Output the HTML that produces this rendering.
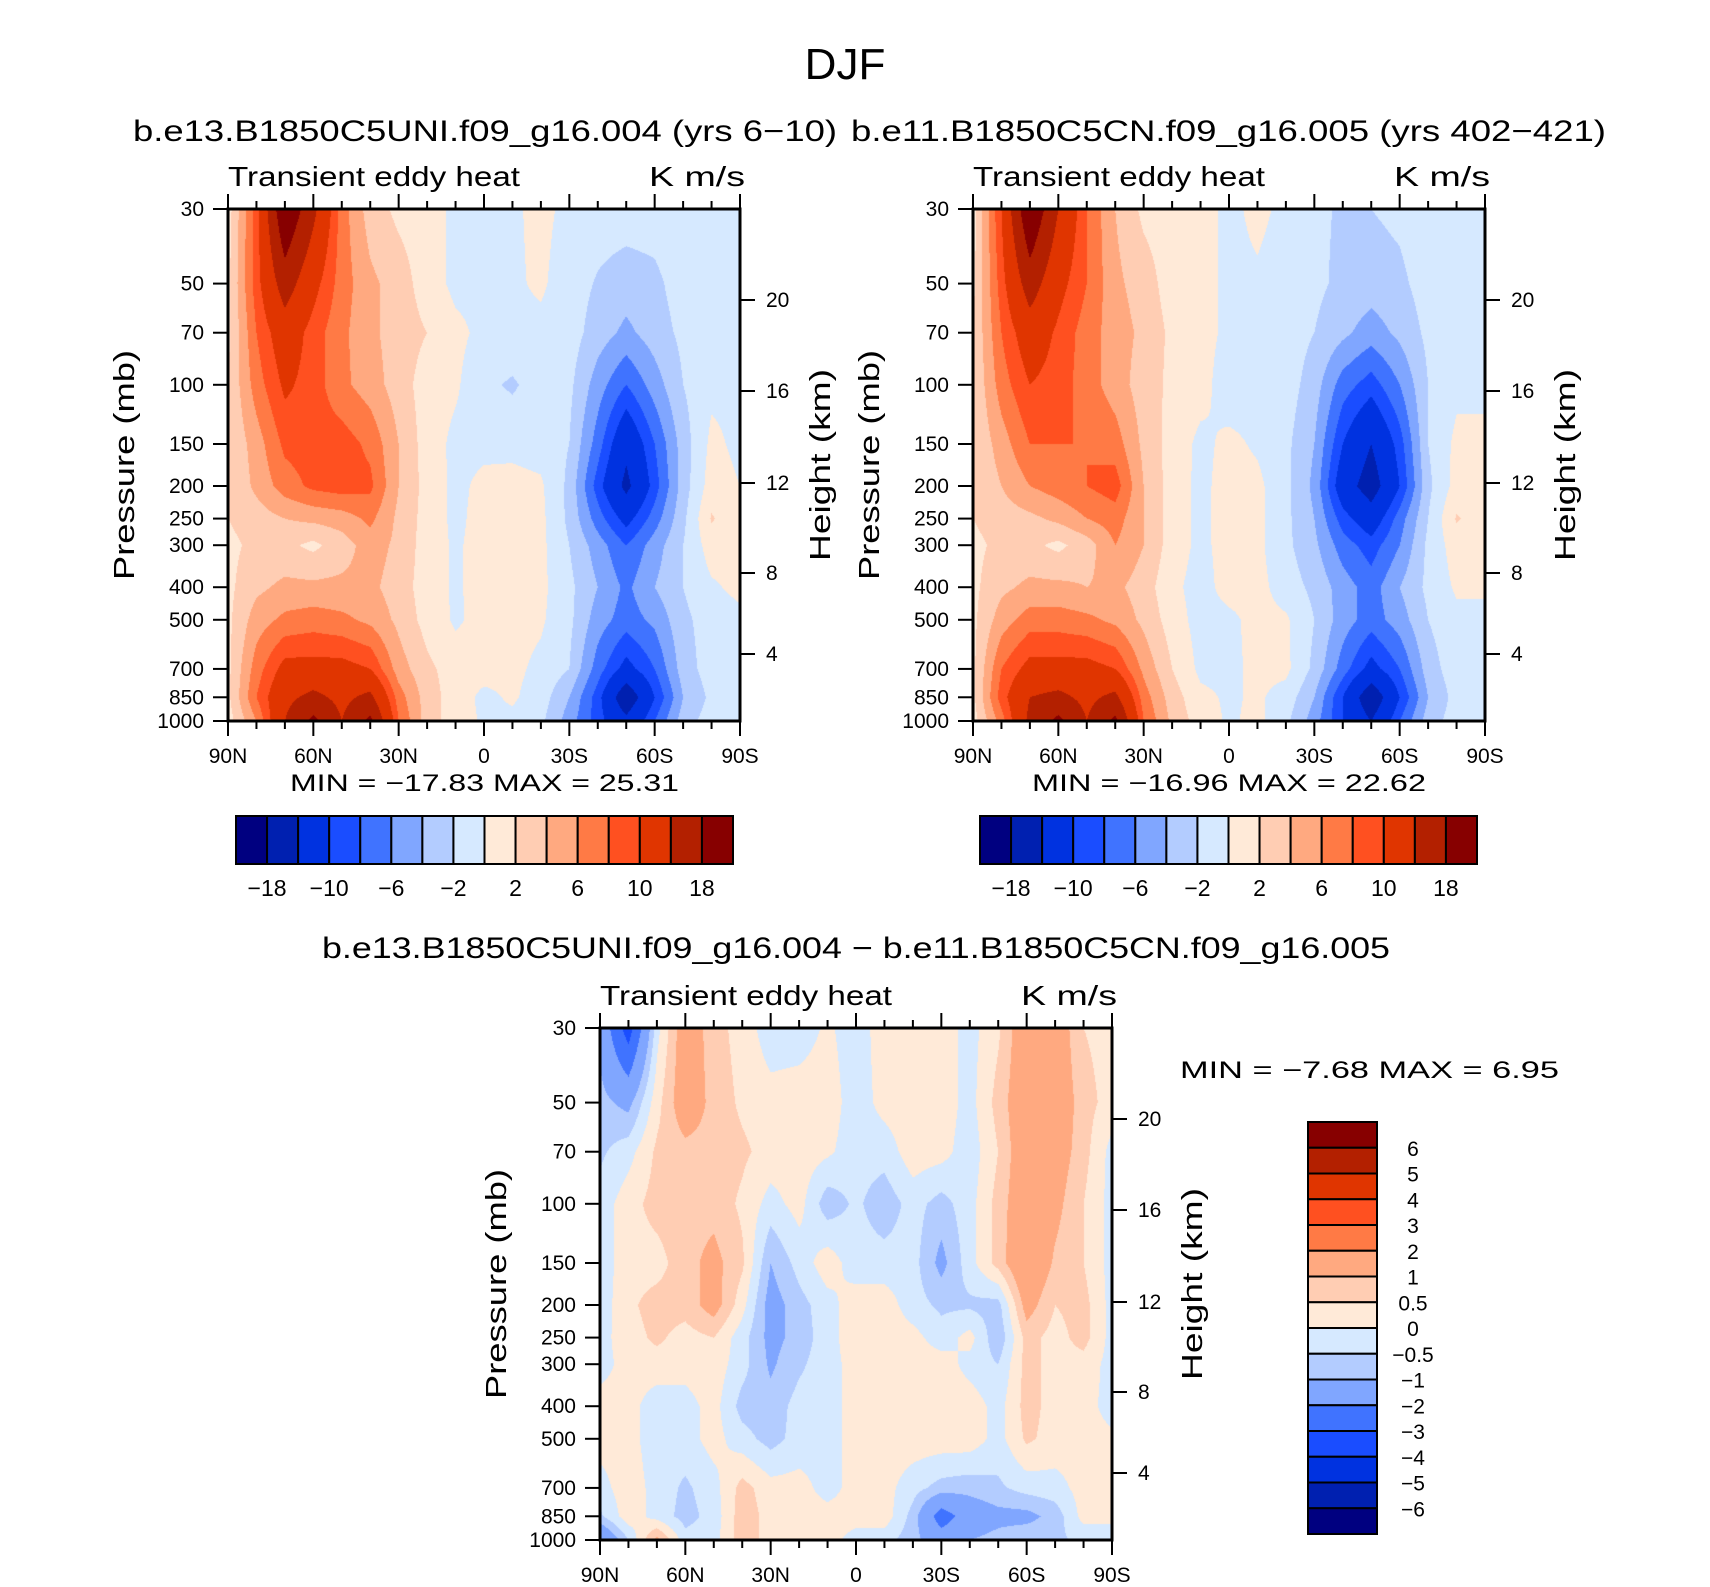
<!DOCTYPE html>
<html><head><meta charset="utf-8"><title>DJF Transient eddy heat</title>
<style>
html,body{margin:0;padding:0;background:#fff;}
#wrap{position:relative;width:1710px;height:1587px;overflow:hidden;background:#fff;font-family:"Liberation Sans",sans-serif;}
canvas{position:absolute;}
svg{position:absolute;left:0;top:0;}
</style></head>
<body>
<div id="wrap">
<canvas id="c1" width="512" height="512" style="left:228px;top:209px"></canvas>
<canvas id="c2" width="512" height="512" style="left:973px;top:209px"></canvas>
<canvas id="c3" width="512" height="512" style="left:600px;top:1028px"></canvas>
<svg id="ov" width="1710" height="1587"></svg>
</div>
<script>
// ---- data ----
const lats = [90,80,70,60,50,40,30,20,10,0,-10,-20,-30,-40,-50,-60,-70,-80,-90];
const plev = [30,50,70,100,150,200,250,300,400,500,700,850,1000];
const pTickLabels = ["30","50","70","100","150","200","250","300","400","500","700","850","1000"];
const latTickLabels = ["90N","60N","30N","0","30S","60S","90S"];
const heightTickLabels = ["20","16","12","8","4"];
const levelsMain = [-18,-14,-10,-8,-6,-4,-2,0,2,4,6,8,10,14,18];
const levelsDiff = [-6,-5,-4,-3,-2,-1,-0.5,0,0.5,1,2,3,4,5,6];
const mainBarLabels = ["\u221218","\u221210","\u22126","\u22122","2","6","10","18"];
const diffBarLabels = ["6","5","4","3","2","1","0.5","0","\u22120.5","\u22121","\u22122","\u22123","\u22124","\u22125","\u22126"];
const palette = ['#000080','#0020b0','#0032e0','#1a4dff','#4073ff','#80a6ff','#b3ccff','#d6e9ff','#ffead8','#ffcdb3','#ffa980','#ff7a45','#ff5020','#e03500','#b32000','#870000'];

const ctlVals = [
[1,9,22,15,7,3,1.5,1,-0.5,-0.5,-0.3,0.5,-0.5,-1,-1,-1,-0.5,-0.5,-0.5],
[1.5,9,16,11,7,4.5,3,1,-0.5,-0.5,-0.3,0.3,-1,-2.2,-3,-2.5,-1,-0.5,-0.5],
[1.5,8,12,9,6.5,4.5,3,2,0.5,-0.5,-0.5,-0.5,-1,-3,-4.5,-3,-1.5,-0.7,-0.5],
[2,7,10.5,9,6.5,5,3,1,0.3,-1.5,-2.3,-1,-1.5,-5,-8,-5,-2,-0.5,-0.5],
[2,5,8.5,9,9,7.5,4,1,-0.5,-0.5,-0.5,-0.8,-2,-7,-13,-8,-3,0.5,-0.5],
[2,4.5,7,8.5,9,8.5,4,1.2,-0.5,0.5,0.6,0.3,-2.5,-9,-15,-9,-3,1,0],
[2,3,4,4.5,5,6.5,3.5,1.2,-0.5,0.8,0.8,0.5,-2.5,-7,-11,-7,-2.5,2.2,0.5],
[1.5,2.5,2.5,1.5,3,5,3.5,1,-0.3,0.8,0.8,0.5,-2,-5,-8,-5,-2,1,0.5],
[1.5,3.5,4.5,4.5,4.5,4.5,3,1,-0.3,0.8,0.8,0.5,-1.5,-4,-6.5,-4,-2,-0.3,0.5],
[1.5,5,6.5,7,6.5,5.5,3.5,1.2,-0.3,0.7,0.7,0.3,-1.5,-5,-7,-5.5,-2.5,-1,-0.5],
[1.5,7,11,11,11,10,5,2.5,1,0.8,0.5,-0.5,-2,-7,-11,-8,-3,-1,-0.5],
[1.5,8,13,15,13,15,7,3,1,-0.5,0.3,-1,-4,-9,-17,-10,-4,-1.5,-0.5],
[1,6,14,19,14,19,8,3,1,-0.3,-0.5,-1.5,-5,-9,-13,-8,-3,-1,-0.5]];

const cntVals = [
[1,10,22,14,8,4,1.5,1,0.8,-0.5,0.5,-0.5,-1.5,-2.3,-2,-1.5,-0.5,-0.5,-0.5],
[1.5,9,16,11,8,4.5,3,1,0.8,-0.5,-0.3,-1,-1.5,-2.5,-3,-2.5,-1,-0.5,-0.5],
[2,8,12,9.5,7,5,3.5,1.5,0.8,-0.5,-0.5,-1,-2,-3.5,-5,-3.5,-1.5,-0.5,-0.5],
[2,7,10,9,7,5,3,1.5,0.8,-1.2,-0.8,-1,-3,-7,-9,-6,-2,-0.5,-0.5],
[2,5,8,8,8,7,3.5,1.2,-0.5,0.5,-0.3,-1.5,-4,-10,-14,-9,-2,0.5,0.5],
[2,4,6,7,8,9,4,1,-0.5,0.8,0.5,-1.5,-4.5,-12,-16,-10,-2.5,0.8,0.8],
[2,3,3.5,4.5,6,7,4,1,-0.5,0.8,0.5,-1.5,-4,-9,-12,-7,-2,2.2,0.8],
[1.5,2.5,2.5,1.5,3,6,4,1,-0.5,0.8,0.5,-1.5,-3.5,-7,-9,-6,-1.5,1,0.5],
[1.5,3.5,4.5,4.5,4,4.5,3,0.5,-0.8,0.8,0.7,-1,-2.5,-5,-7,-4,-1.5,0.3,0.3],
[1.5,5,7,7,6.5,5.5,3.5,1,-0.8,-0.5,0.7,0.3,-2,-5,-7,-5,-2,-0.5,-0.5],
[1.5,8,11,11,11,10,5.5,2,-0.5,-0.5,0.5,0.5,-2.5,-7,-11,-8,-3,-0.8,-0.5],
[1.5,9,14,15,13,15,7,3,0.5,-0.3,0.3,-0.8,-4,-10,-17,-10,-4,-1.2,-0.5],
[1,7,15,19,14,19,8,3.5,1,-0.3,0.5,-1.5,-5,-10,-14,-8,-3,-1,-0.5]];

const diffVals = [
[-1.2,-3.5,-0.2,1.5,0.7,0.3,-0.3,-0.3,0.1,-0.3,0.3,0.4,0.3,-0.2,0.4,1.6,1.5,0.5,0.3],
[-0.8,-1.2,0.3,1.5,0.8,0.4,0.2,0.3,0.3,-0.3,0.2,0.3,0.3,-0.2,0.7,1.6,1.6,0.7,0.3],
[-0.6,-0.2,0.6,0.8,0.8,0.6,0.3,0.3,0.1,-0.3,-0.3,0.3,0.2,-0.3,0.5,1.6,1.4,0.7,-0.2],
[-0.3,0.3,0.7,0.8,0.8,0.4,-0.2,0.2,-0.8,-0.4,-0.8,-0.3,-0.7,-0.2,0.7,1.6,1.2,0.5,-0.2],
[-0.3,0.3,0.3,0.8,1.2,0.6,-1,-0.3,0.3,-0.3,-0.3,-0.3,-1.2,-0.2,0.7,1.8,0.9,0.5,-0.2],
[-0.3,0.4,0.7,0.7,1.3,0.2,-1.3,-0.7,-0.2,0.3,0.3,-0.3,-0.6,-0.6,-0.7,1.3,0.5,0.7,-0.2],
[-0.2,0.3,0.6,0.3,0.5,-0.3,-1.2,-0.8,-0.2,0.3,0.3,0.2,-0.3,0.2,-0.9,0.7,0.3,0.7,-0.2],
[-0.2,0.2,0.3,0.2,0.3,-0.3,-1.1,-0.6,-0.2,0.2,0.3,0.3,0.3,-0.2,-0.5,0.7,0.3,0.3,-0.2],
[0.2,0.2,-0.3,-0.2,0.2,-0.7,-0.8,-0.3,-0.3,0.3,0.3,0.3,0.3,0.3,-0.2,0.7,0.3,0.2,-0.2],
[0.2,0.2,-0.3,-0.2,0.2,-0.3,-0.7,-0.3,-0.2,0.2,0.3,0.3,0.3,0.3,-0.2,0.6,0.3,0.2,0.1],
[-0.2,0.3,-0.2,-0.6,-0.2,0.7,0.2,0.2,-0.2,0.2,0.2,-0.3,-0.7,-0.8,-0.6,-0.3,-0.2,0.2,0],
[-0.6,0.3,-0.2,-0.7,-0.3,0.8,0.3,0.2,0.2,0.2,0.3,-0.7,-2.5,-1.5,-1.2,-1.2,-0.8,0.2,0],
[-2,-0.5,1.2,-0.3,-0.2,0.8,0.3,0.2,0.2,-0.2,-0.3,-0.8,-1.5,-1,-0.8,-0.6,-0.6,-0.4,0]];

// ---- geometry ----
const PW = 512, PH = 512;
const lnTop = Math.log(plev[0]), lnSpan = Math.log(plev[plev.length-1]) - lnTop;
function yOfP(p){ return (Math.log(p) - lnTop) / lnSpan * PH; }
function xOfLat(lat){ return (90 - lat) / 180 * PW; }
const heightOffsets = [91,182,274,364,445];

function hexToRgb(h){ return [parseInt(h.substr(1,2),16),parseInt(h.substr(3,2),16),parseInt(h.substr(5,2),16)]; }
const palRgb = palette.map(hexToRgb);

function fillField(canvasId, vals, levels){
  const cv = document.getElementById(canvasId);
  const ctx = cv.getContext('2d');
  const img = ctx.createImageData(PW, PH);
  const lnP = plev.map(Math.log);
  const nLat = lats.length;
  for (let py = 0; py < PH; py++){
    const lp = lnTop + (py + 0.5) / PH * lnSpan;
    let k = 0; while (k < plev.length - 2 && lp > lnP[k+1]) k++;
    const t = Math.min(1, Math.max(0, (lp - lnP[k]) / (lnP[k+1] - lnP[k])));
    const r0 = vals[k], r1 = vals[k+1];
    for (let px = 0; px < PW; px++){
      const lat = 90 - 180 * (px + 0.5) / PW;
      const fc = (lats[0] - lat) / (lats[0] - lats[1]);
      let i = Math.min(nLat - 2, Math.floor(fc)); const s = fc - i;
      const v = (1-t)*((1-s)*r0[i] + s*r0[i+1]) + t*((1-s)*r1[i] + s*r1[i+1]);
      let c = 0; while (c < levels.length && v >= levels[c]) c++;
      const rgb = palRgb[c]; const o = (py*PW + px)*4;
      img.data[o] = rgb[0]; img.data[o+1] = rgb[1]; img.data[o+2] = rgb[2]; img.data[o+3] = 255;
    }
  }
  ctx.putImageData(img, 0, 0);
}
fillField('c1', ctlVals, levelsMain);
fillField('c2', cntVals, levelsMain);
fillField('c3', diffVals, levelsDiff);

// ---- SVG overlay ----
const NS = 'http://www.w3.org/2000/svg';
const svg = document.getElementById('ov');
function mk(tag, attrs){ const e = document.createElementNS(NS, tag); for (const k in attrs) e.setAttribute(k, attrs[k]); svg.appendChild(e); return e; }
function txt(x, y, s, size, anchor, extra){
  const e = mk('text', Object.assign({x:x, y:y, 'font-size':size, 'text-anchor':anchor||'start', fill:'#000', 'font-family':'"Liberation Sans", sans-serif'}, extra||{}));
  e.textContent = s; return e;
}

let t;
t = txt(845, 79, 'DJF', 44, 'middle');


t = txt(133, 141, 'b.e13.B1850C5UNI.f09_g16.004 (yrs 6\u221210)', 30, 'start', {textLength:704, lengthAdjust:'spacingAndGlyphs'});


t = txt(851, 141, 'b.e11.B1850C5CN.f09_g16.005 (yrs 402\u2212421)', 30, 'start', {textLength:755, lengthAdjust:'spacingAndGlyphs'});


t = txt(322, 958, 'b.e13.B1850C5UNI.f09_g16.004 \u2212 b.e11.B1850C5CN.f09_g16.005', 30, 'start', {textLength:1068, lengthAdjust:'spacingAndGlyphs'});



function drawAxes(L, T, prefix){
  const R = L + PW, B = T + PH;
  let e;
  e = txt(L, T - 23, 'Transient eddy heat', 28, 'start', {textLength:292, lengthAdjust:'spacingAndGlyphs'});
  
  
  e = txt(R + 5, T - 23, 'K m/s', 28, 'end', {textLength:96, lengthAdjust:'spacingAndGlyphs'});
  
  
  e = mk('rect', {x:L, y:T, width:PW, height:PH, fill:'none', stroke:'#000', 'stroke-width':3});
  
  
  for (let lat = 90; lat >= -90; lat -= 10){
    const x = L + xOfLat(lat); const major = (lat % 30 === 0);
    const len = major ? 15 : 8;
    e = mk('line', {x1:x, y1:T, x2:x, y2:T - len, stroke:'#000', 'stroke-width':2});
    
    
    e = mk('line', {x1:x, y1:B, x2:x, y2:B + len, stroke:'#000', 'stroke-width':2});
    
    
  }
  latTickLabels.forEach((s, i) => {
    const x = L + xOfLat(90 - 30*i);
    const el = txt(x, B + 42, s, 21, 'middle');
    
    
  });
  plev.forEach((p, i) => {
    const y = T + yOfP(p);
    const ln = mk('line', {x1:L, y1:y, x2:L - 15, y2:y, stroke:'#000', 'stroke-width':2});
    
    
    const el = txt(L - 24, y + 7, pTickLabels[i], 21, 'end');
    
    
  });
  heightTickLabels.forEach((s, i) => {
    const y = T + heightOffsets[i];
    const ln = mk('line', {x1:R, y1:y, x2:R + 15, y2:y, stroke:'#000', 'stroke-width':2});
    
    
    const el = txt(R + 26, y + 7, s, 21, 'start');
    
    
  });
  const cy = T + PH/2;
  e = txt(0, 0, 'Pressure  (mb)', 29, 'middle', {transform:'translate(' + (L - 94) + ',' + cy + ') rotate(-90)', textLength:230, lengthAdjust:'spacingAndGlyphs'});
  
  
  e = txt(0, 0, 'Height  (km)', 29, 'middle', {transform:'translate(' + (R + 90) + ',' + cy + ') rotate(-90)', textLength:192, lengthAdjust:'spacingAndGlyphs'});
  
  
}
drawAxes(228, 209, 'left-panel');
drawAxes(973, 209, 'right-panel');
drawAxes(600, 1028, 'diff-panel');

t = txt(290, 791, 'MIN =  \u221217.83   MAX =   25.31', 24, 'start', {textLength:389, lengthAdjust:'spacingAndGlyphs'});


t = txt(1032, 791, 'MIN =  \u221216.96   MAX =   22.62', 24, 'start', {textLength:394, lengthAdjust:'spacingAndGlyphs'});


t = txt(1180, 1078, 'MIN =   \u22127.68   MAX =    6.95', 24, 'start', {textLength:379, lengthAdjust:'spacingAndGlyphs'});



function hBar(L, T, W, H, prefix){
  const bw = W / palette.length;
  palette.forEach((c, i) => {
    const r = mk('rect', {x:L + i*bw, y:T, width:bw, height:H, fill:c, stroke:'#000', 'stroke-width':2});
    
    
  });
  mainBarLabels.forEach((s, j) => {
    const x = L + (2*j + 1) * bw;
    const el = txt(x, T + H + 32, s, 23, 'middle');
    
    
  });
}
hBar(236, 816, 497, 48, 'left');
hBar(980, 816, 497, 48, 'right');

(function vBar(){
  const L = 1308, T = 1122, W = 69, H = 412;
  const bh = H / palette.length;
  for (let i = 0; i < palette.length; i++){
    const r = mk('rect', {x:L, y:T + i*bh, width:W, height:bh, fill:palette[palette.length-1-i], stroke:'#000', 'stroke-width':2});
    
    
  }
  diffBarLabels.forEach((s, j) => {
    const y = T + (j+1)*bh;
    const el = txt(1413, y + 8, s, 21, 'middle');
    
    
  });
})();
</script>
</body></html>
